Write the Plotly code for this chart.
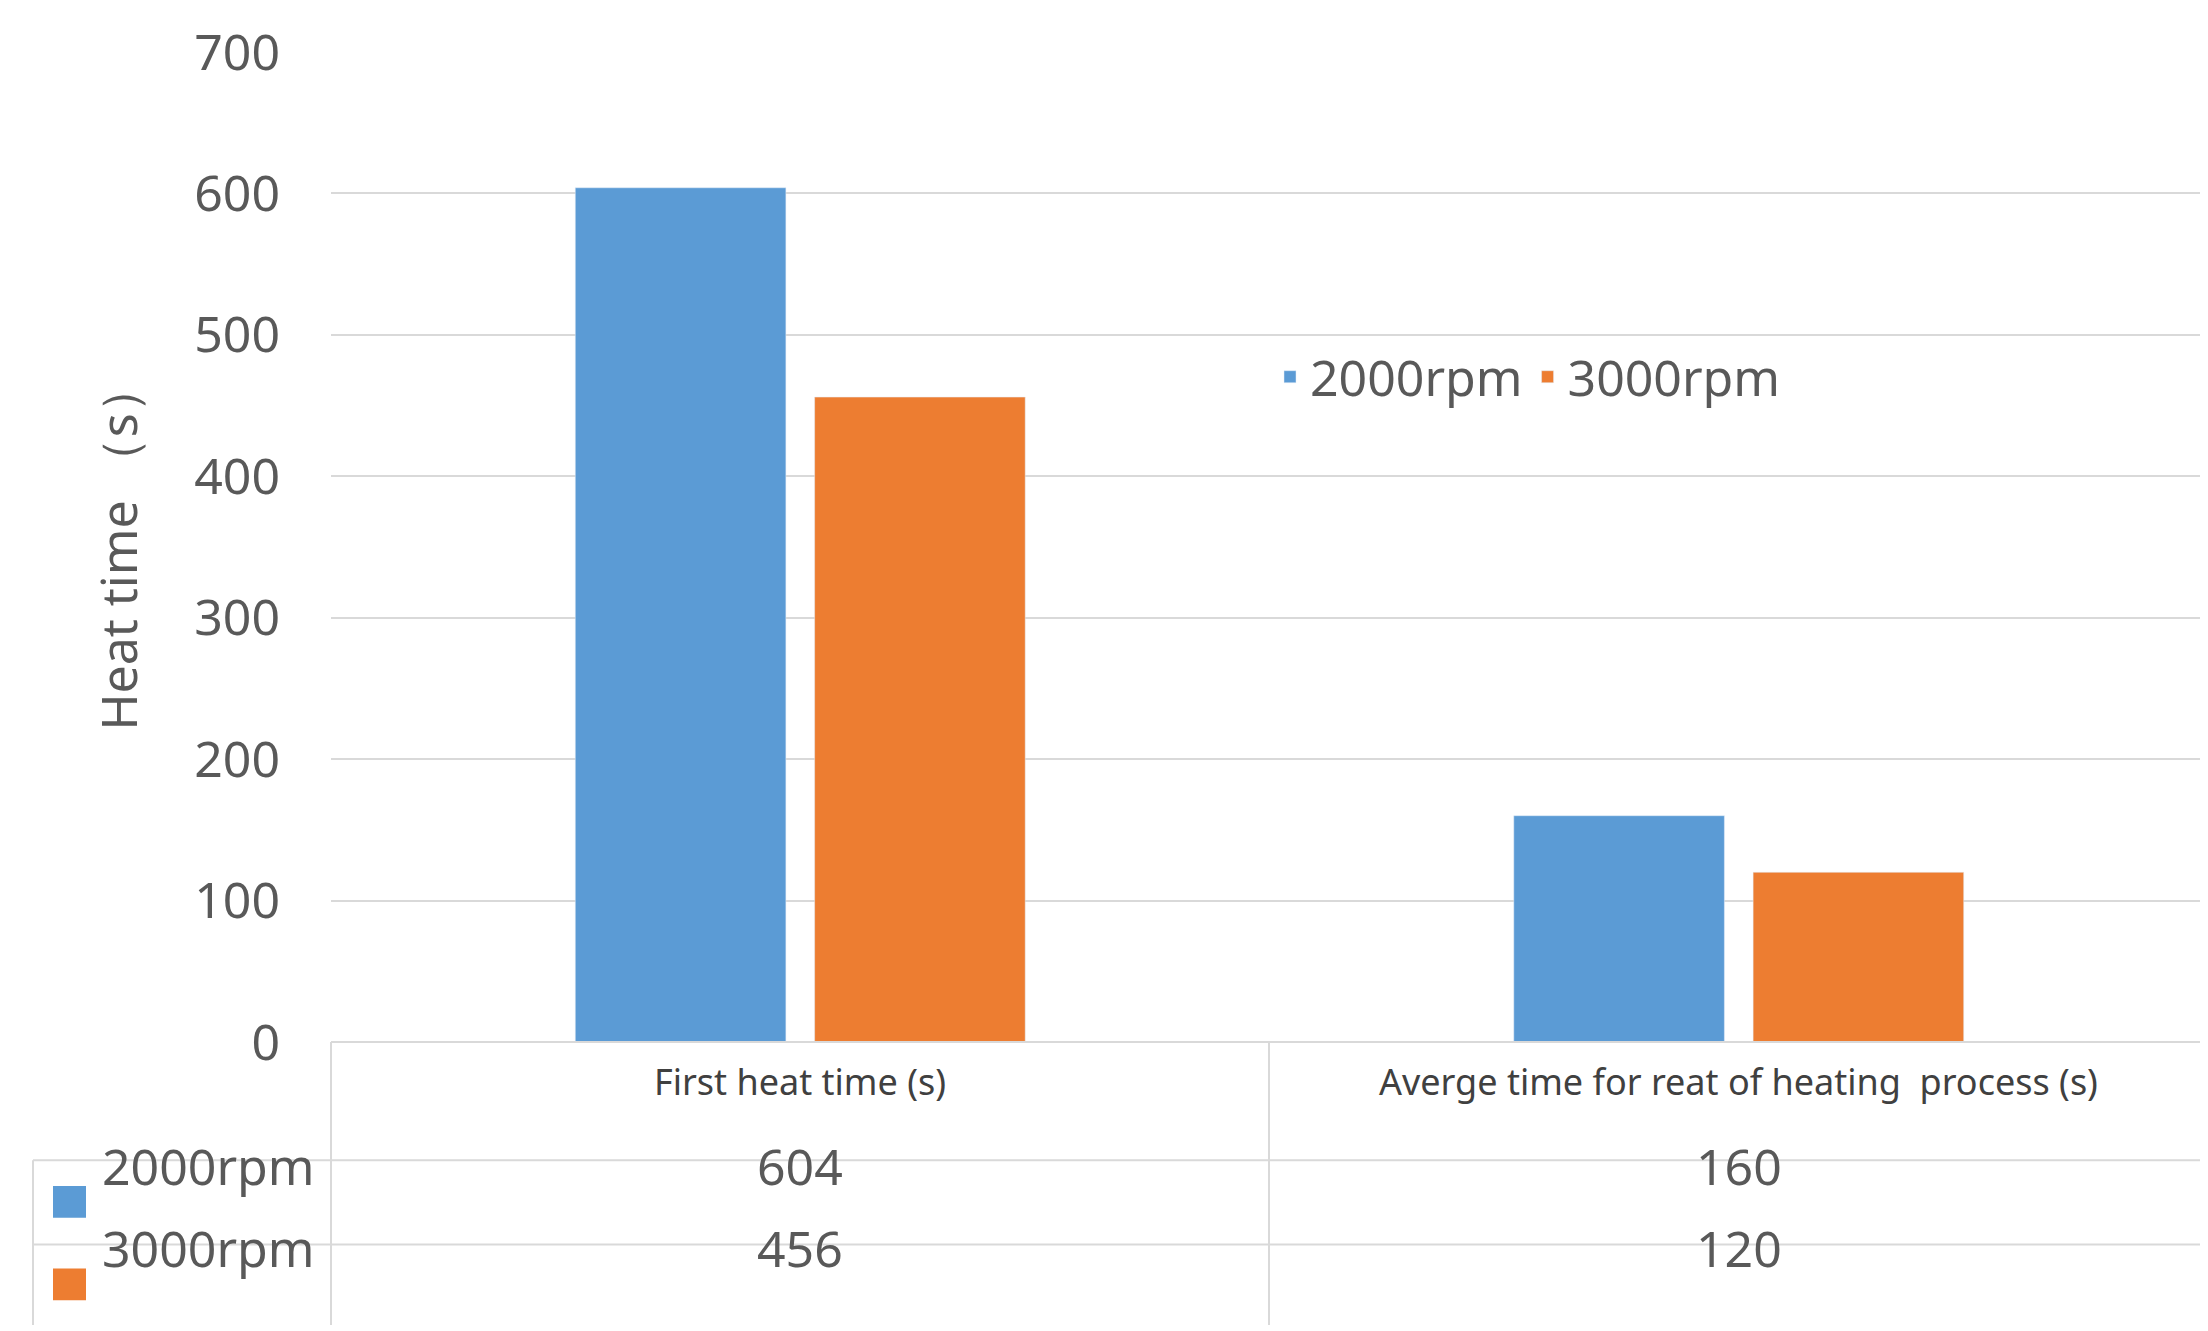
import plotly.graph_objects as go

categories = ["First heat time (s)", "Averge time for reat of heating  process (s)"]
series_names = ["2000rpm", "3000rpm"]
values_2000 = [604, 160]
values_3000 = [456, 120]
colors = ["#5B9BD5", "#ED7D31"]
y_ticks = [0, 100, 200, 300, 400, 500, 600, 700]

W, H = 2208, 1331
L, R, T, B = 323, 8, 37, 297
plot_w = W - L - R
plot_h = H - T - B
GRAY = "#595959"
LINE = "#d9d9d9"
FONT = "Noto Sans"


def px_x(px):
    return (px - L) / plot_w


def px_y(py):
    return (H - B - py) / plot_h


fig = go.Figure()
for name, vals, col in zip(series_names, [values_2000, values_3000], colors):
    fig.add_trace(go.Bar(x=categories, y=vals, name=name, marker_color=col))

shapes = []
def hline(y, x0, x1):
    shapes.append(dict(type="line", xref="paper", yref="paper", x0=px_x(x0), x1=px_x(x1),
                       y0=px_y(y), y1=px_y(y), line=dict(color=LINE, width=2)))

def vline(x, y0, y1):
    shapes.append(dict(type="line", xref="paper", yref="paper", x0=px_x(x), x1=px_x(x),
                       y0=px_y(y0), y1=px_y(y1), line=dict(color=LINE, width=2)))

hline(1034, 323, 2200)
hline(1153, 25, 2200)
hline(1238, 25, 2200)
vline(323, 1034, 1319)
vline(1261, 1034, 1319)
vline(25, 1153, 1319)

annotations = []
for cat in categories:
    annotations.append(dict(x=cat, xref="x", y=px_y(1100), yref="paper", text=cat,
                            showarrow=False, font=dict(size=36, color="#404040")))
for row_y, name, vals, col in zip([1195, 1278], series_names, [values_2000, values_3000], colors):
    for cat, v in zip(categories, vals):
        annotations.append(dict(x=cat, xref="x", y=px_y(row_y), yref="paper", text=str(v),
                                showarrow=False, font=dict(size=50, color=GRAY)))
    shapes.append(dict(type="rect", xref="paper", yref="paper", x0=px_x(45), x1=px_x(78),
                       y0=px_y(row_y - 16), y1=px_y(row_y + 16), fillcolor=col, line=dict(width=0)))
    annotations.append(dict(x=px_x(92), xref="paper", y=px_y(row_y), yref="paper", text=name,
                            xanchor="left", showarrow=False, font=dict(size=50, color=GRAY)))

fig.update_layout(
    width=W, height=H,
    margin=dict(l=L, r=R, t=T, b=B),
    paper_bgcolor="white", plot_bgcolor="white",
    font=dict(family=FONT, color=GRAY),
    barmode="group", bargap=0.49, bargroupgap=0.12,
    showlegend=True,
    legend=dict(orientation="h", x=px_x(1262), y=px_y(364), yanchor="middle", xanchor="left",
                font=dict(size=50, color=GRAY), itemwidth=30, bgcolor="rgba(0,0,0,0)"),
    xaxis=dict(showticklabels=False, showline=False, showgrid=False),
    yaxis=dict(range=[0, 700], tickvals=y_ticks, showgrid=True, gridcolor=LINE, gridwidth=2,
               zeroline=False, ticklabelstandoff=50, tickfont=dict(size=50, color=GRAY),
               title=dict(text="Heat time （s）", font=dict(size=50, color=GRAY), standoff=40)),
    shapes=shapes,
    annotations=annotations,
)

fig.write_html("out.html")
